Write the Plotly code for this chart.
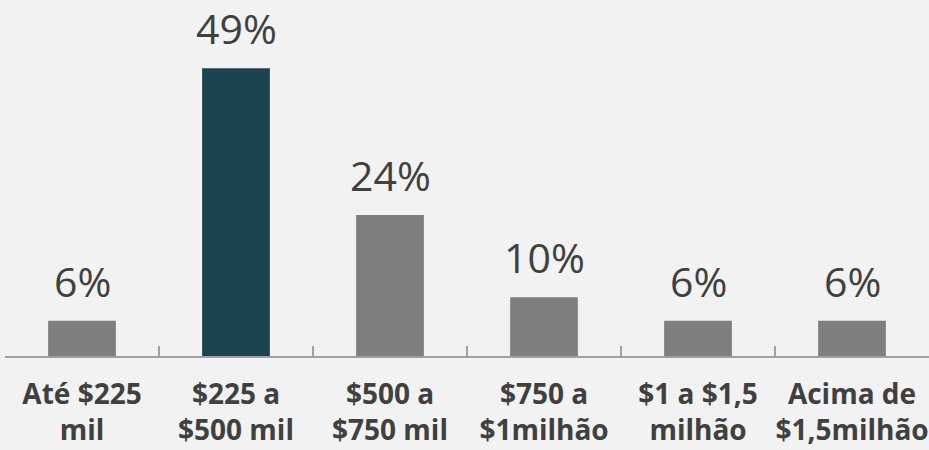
import plotly.graph_objects as go

categories = ["Até $225<br>mil", "$225 a<br>$500 mil", "$500 a<br>$750 mil",
              "$750 a<br>$1milhão", "$1 a $1,5<br>milhão", "Acima de<br>$1,5milhão"]
shares = [6, 49, 24, 10, 6, 6]
bar_colors = ["#7f7f7f", "#1b4350", "#7f7f7f", "#7f7f7f", "#7f7f7f", "#7f7f7f"]

fig = go.Figure(go.Bar(x=categories, y=shares, marker=dict(color=bar_colors, line=dict(width=0)),
                       hoverinfo="skip"))

# value labels above each bar
for c, v in zip(categories, shares):
    fig.add_annotation(x=c, y=v, text=f"{v}%", showarrow=False, yanchor="bottom", yshift=10,
                       font=dict(family="Open Sans", size=41, color="#404040"))

fig.update_layout(
    width=929, height=450,
    margin=dict(l=5, r=0, t=0, b=94),
    paper_bgcolor="#f2f2f2", plot_bgcolor="#f2f2f2",
    bargap=0.56, showlegend=False,
    font=dict(family="Open Sans", color="#404040"),
)
fig.update_xaxes(showline=True, linecolor="#a0a0a0", linewidth=2, ticks="inside", ticklen=10,
                 tickcolor="#a0a0a0", tickwidth=2, tickson="boundaries", showgrid=False,
                 ticklabelstandoff=12, tickangle=0, automargin=False,
                 tickfont=dict(family="Open Sans", size=28, color="#404040", weight="bold"))
fig.update_yaxes(visible=False, range=[0, 60.6])

fig.write_html("out.html")
